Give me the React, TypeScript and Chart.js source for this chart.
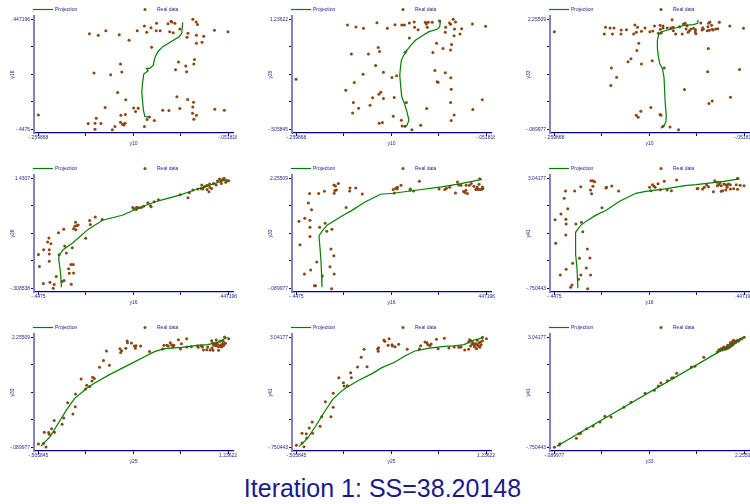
import React, { useEffect, useRef } from "react";
import { Chart, registerables } from "chart.js";

Chart.register(...registerables);

type Pt = [number, number];

// ---------- tick labels (end labels of each axis) ----------
const ticksY10 = ["-.259868", "-.051818"];
const ticksY16 = ["-.4475", ".447196"];
const ticksY25 = ["-.505845", "1.23622"];
const ticksY26 = ["-.308538", "1.4307"];
const ticksY33 = ["-.089977", "2.25509"];
const ticksY41 = ["-.750443", "3.04177"];

const titleText = "Iteration 1: SS=38.20148";
const legendLine = "Projection";
const legendDot = "Real data";

// ---------- panel A: y10 vs y16 ----------
const realA: Pt[] = [[-0.0905,0.4474],[-0.0869,0.4256],[-0.0854,0.4039],[-0.1145,0.4311],[-0.1134,0.4256],[-0.1177,0.4120],[-0.1102,0.4147],[-0.1303,0.4147],[-0.1436,0.3930],[-0.1364,0.3794],[-0.1515,0.3549],[-0.1411,0.3413],[-0.1307,0.3549],[-0.1264,0.3549],[-0.1159,0.3467],[-0.1120,0.3386],[-0.1048,0.3685],[-0.0958,0.3331],[-0.0865,0.3168],[-0.0786,0.3087],[-0.0969,0.3005],[-0.0668,0.3576],[-0.0520,0.3467],[-0.2039,0.3304],[-0.1942,0.3168],[-0.1859,0.3549],[-0.1712,0.3223],[-0.1605,0.2760],[-0.0804,0.2597],[-0.0865,0.2515],[-0.1357,0.2189],[-0.1062,0.0992],[-0.0887,0.1210],[-0.0894,0.0829],[-0.0983,0.0666],[-0.1095,0.0367],[-0.0973,0.0203],[-0.1698,0.0829],[-0.1684,0.0176],[-0.1989,0.0095],[-0.1806,-0.0041],[-0.1730,-0.1483],[-0.1640,-0.2081],[-0.1080,-0.1837],[-0.0962,-0.2054],[-0.0897,-0.2272],[-0.1867,-0.2707],[-0.1554,-0.2734],[-0.1504,-0.2761],[-0.1533,-0.3033],[-0.1235,-0.2925],[-0.1167,-0.2952],[-0.1048,-0.2789],[-0.0905,-0.2653],[-0.0664,-0.2843],[-0.0560,-0.2925],[-0.1644,-0.3278],[-0.1694,-0.3333],[-0.0908,-0.3169],[-0.0865,-0.3333],[-0.0894,-0.3659],[-0.1964,-0.3577],[-0.2599,-0.3305],[-0.1382,-0.3469],[-0.1407,-0.3686],[-0.1328,-0.3768],[-0.2053,-0.4013],[-0.1978,-0.3985],[-0.1913,-0.4013],[-0.1698,-0.3904],[-0.1676,-0.4067],[-0.1648,-0.3985],[-0.1662,-0.4121],[-0.1436,-0.4257],[-0.1759,-0.4257],[-0.1788,-0.4502],[-0.1978,-0.4475]];
const projA: Pt[] = [[-0.1016,0.4229],[-0.1027,0.3331],[-0.1055,0.3059],[-0.1145,0.2651],[-0.1235,0.2243],[-0.1289,0.1835],[-0.1325,0.1291],[-0.1339,0.0747],[-0.1378,0.0475],[-0.1414,0.0475],[-0.1396,0.0285],[-0.1443,0.0013],[-0.1457,-0.0749],[-0.1465,-0.1429],[-0.1457,-0.2109],[-0.1447,-0.2925],[-0.1432,-0.3414],[-0.1414,-0.3469],[-0.1368,-0.3469]];

// ---------- panel B: y10 vs y25 ----------
const realB: Pt[] = [[-0.1030,1.2098],[-0.1109,1.1886],[-0.1152,1.1886],[-0.1185,1.1886],[-0.1174,1.1621],[-0.1163,1.1092],[-0.1307,1.1939],[-0.1360,1.1780],[-0.1414,1.1462],[-0.1443,1.1462],[-0.1518,1.1515],[-0.1716,1.1833],[-0.1601,1.0933],[-0.1303,1.1092],[-0.1264,1.0721],[-0.0962,1.1092],[-0.0919,1.1780],[-0.0908,1.1568],[-0.0879,1.2363],[-0.0854,1.1939],[-0.0865,1.0827],[-0.0786,1.0880],[-0.0668,1.1621],[-0.0524,1.1251],[-0.2039,1.1462],[-0.1946,1.1145],[-0.1863,1.0933],[-0.0966,1.0298],[-0.0869,0.9768],[-0.0804,1.0033],[-0.1360,0.9397],[-0.2603,0.2885],[-0.1996,0.6856],[-0.1809,0.6856],[-0.1701,0.7915],[-0.1687,0.7279],[-0.1730,0.5055],[-0.1644,0.3996],[-0.1867,0.3679],[-0.1964,0.2355],[-0.1551,0.3149],[-0.1500,0.3414],[-0.2057,0.1137],[-0.1673,0.0819],[-0.1694,0.0502],[-0.1644,-0.0187],[-0.1763,-0.0081],[-0.1791,-0.1246],[-0.1974,-0.0822],[-0.1917,-0.1722],[-0.1982,-0.2463],[-0.1526,-0.0028],[-0.1536,-0.2993],[-0.1691,-0.4105],[-0.1655,-0.3999],[-0.1447,-0.3628],[-0.1393,-0.0822],[-0.1235,-0.4423],[-0.1332,-0.5111],[-0.1439,-0.4528],[-0.1407,-0.4581],[-0.1062,0.8550],[-0.0991,0.7756],[-0.0897,0.8391],[-0.1102,0.7121],[-0.0908,0.7491],[-0.1080,0.4261],[-0.0966,0.3891],[-0.0905,0.3096],[-0.1055,0.2461],[-0.1045,0.2408],[-0.0901,0.1296],[-0.0908,-0.0822],[-0.0560,-0.0398],[-0.0664,-0.1934],[-0.0869,-0.2781],[-0.0901,-0.3681],[-0.1170,-0.1775]];
const projB: Pt[] = [[-0.1019,1.2257],[-0.1027,1.1198],[-0.1055,1.0774],[-0.1145,1.0403],[-0.1235,0.9609],[-0.1289,0.9080],[-0.1342,0.8285],[-0.1386,0.7491],[-0.1414,0.7121],[-0.1393,0.7173],[-0.1421,0.6697],[-0.1447,0.5903],[-0.1457,0.4844],[-0.1465,0.3520],[-0.1454,0.1667],[-0.1443,0.0078],[-0.1414,-0.0981],[-0.1386,-0.2305],[-0.1364,-0.3628],[-0.1386,-0.4423],[-0.1421,-0.4687]];

// ---------- panel C: y10 vs y33 ----------
const realC: Pt[] = [[-0.2599,1.9914],[-0.2038,2.0840],[-0.1988,2.0698],[-0.1945,2.0698],[-0.2052,1.9415],[-0.1962,1.9415],[-0.1866,2.0270],[-0.1809,2.0341],[-0.1869,1.9415],[-0.1716,2.1339],[-0.1730,1.9415],[-0.1687,2.0840],[-0.1701,1.9771],[-0.1644,1.9985],[-0.1605,2.0698],[-0.1551,1.9914],[-0.1519,2.0056],[-0.1501,2.1126],[-0.1440,2.1268],[-0.1437,2.0413],[-0.1408,2.0698],[-0.1362,2.0698],[-0.1408,2.1126],[-0.1458,1.9557],[-0.1426,1.9629],[-0.1308,2.2480],[-0.1322,2.0698],[-0.1297,2.0840],[-0.1269,1.9415],[-0.1294,2.0128],[-0.1226,2.0983],[-0.1183,2.1553],[-0.1165,2.1696],[-0.1154,2.0484],[-0.1133,1.9771],[-0.1119,2.0128],[-0.1101,2.0484],[-0.1072,2.0627],[-0.1047,1.9486],[-0.1051,2.0341],[-0.0993,2.1767],[-0.0972,2.0769],[-0.0979,2.0270],[-0.0922,2.0128],[-0.0915,2.0983],[-0.0908,2.1696],[-0.0893,2.1981],[-0.0875,2.1268],[-0.0868,2.0413],[-0.0829,2.0484],[-0.0807,2.0555],[-0.0790,2.1910],[-0.0675,2.1126],[-0.0525,2.0627],[-0.1197,1.9415],[-0.1144,2.1197],[-0.1054,1.9842],[-0.0965,2.0484],[-0.0900,2.0199],[-0.0857,2.0270],[-0.1673,1.7419],[-0.1694,1.5922],[-0.1759,1.4140],[-0.1791,1.3499],[-0.1644,1.3000],[-0.1526,1.3712],[-0.1394,1.2144],[-0.1973,1.2144],[-0.1916,1.0220],[-0.1980,0.8438],[-0.0911,1.6350],[-0.0918,1.1360],[-0.0568,1.1859],[-0.1172,0.7582],[-0.0668,0.5943],[-0.0868,0.5159],[-0.0904,0.4589],[-0.1541,0.3733],[-0.1651,0.2949],[-0.1701,0.2094],[-0.1680,0.1666],[-0.1440,0.2236],[-0.1430,0.2094],[-0.1408,-0.0258],[-0.1330,-0.0401],[-0.1237,-0.0971]];
const projC: Pt[] = [[-0.1022,2.2409],[-0.1029,2.1696],[-0.1072,2.1411],[-0.1179,2.1268],[-0.1269,2.0698],[-0.1358,2.0270],[-0.1430,1.9842],[-0.1455,1.9272],[-0.1469,1.8132],[-0.1469,1.6350],[-0.1458,1.4568],[-0.1444,1.3142],[-0.1415,1.2073],[-0.1397,1.0291],[-0.1390,0.7440],[-0.1383,0.4589],[-0.1372,0.2094],[-0.1376,0.0668],[-0.1401,-0.0258],[-0.1433,-0.0686]];

// ---------- panel D: y16 vs y26 ----------
const realD: Pt[] = [[0.4283,1.4299],[0.4221,1.4140],[0.4407,1.3928],[0.4128,1.3928],[0.4066,1.4193],[0.3973,1.3875],[0.4500,1.3928],[0.4159,1.3504],[0.4360,1.3663],[0.3787,1.3504],[0.3911,1.3239],[0.3601,1.3398],[0.3508,1.3186],[0.3446,1.3133],[0.3353,1.2974],[0.3229,1.3239],[0.3275,1.2603],[0.3616,1.2868],[0.3694,1.2709],[0.3477,1.2550],[0.3570,1.2179],[0.3043,1.2603],[0.3198,1.2709],[0.2810,1.2444],[0.2640,1.2020],[0.2578,1.1225],[0.2206,1.1702],[0.1183,1.0907],[0.0981,1.0589],[0.0687,1.0430],[0.0811,0.9953],[0.0485,0.9900],[0.0377,0.9688],[0.0160,0.9741],[0.0036,0.9476],[0.0144,0.9370],[-0.0026,0.9688],[0.0842,0.9794],[0.0253,0.9635],[-0.1793,0.8204],[-0.1468,0.7780],[-0.2057,0.7621],[-0.2026,0.6985],[-0.2723,0.7356],[-0.2754,0.6720],[-0.2661,0.6826],[-0.2599,0.6932],[-0.2816,0.6349],[-0.2708,0.6190],[-0.3281,0.6243],[-0.3529,0.5713],[-0.2243,0.4812],[-0.2878,0.3328],[-0.3235,0.3593],[-0.3979,0.4865],[-0.4041,0.4229],[-0.3886,0.3964],[-0.4227,0.3010],[-0.3963,0.3010],[-0.3963,0.2321],[-0.4475,0.2268],[-0.3498,0.2215],[-0.3157,0.2480],[-0.3963,0.1208],[-0.4428,0.0360],[-0.2940,0.0678],[-0.2832,0.0678],[-0.3049,-0.0011],[-0.2816,-0.0647],[-0.3018,-0.0700],[-0.3638,-0.1230],[-0.3266,-0.1866],[-0.3359,-0.2025],[-0.3932,-0.2131],[-0.4242,-0.2343],[-0.3731,-0.2502],[-0.2925,-0.2449],[-0.3777,-0.3085]];
const projD: Pt[] = [[0.4438,1.4140],[0.3973,1.3610],[0.3353,1.2974],[0.2655,1.2179],[0.2190,1.1649],[0.1183,1.0748],[0.0563,1.0006],[0.0098,0.9370],[-0.0522,0.8469],[-0.1452,0.7674],[-0.2150,0.6190],[-0.2847,0.4123],[-0.3312,0.3010],[-0.3498,0.2109],[-0.3514,0.1473],[-0.3467,0.0254],[-0.3421,-0.1071],[-0.3390,-0.2926]];

// ---------- panel E: y16 vs y33 ----------
const realE: Pt[] = [[0.4170,2.2481],[0.3120,2.1772],[0.3774,2.1418],[0.3531,2.1064],[0.3181,2.1134],[0.3287,2.1064],[0.3683,2.1064],[0.4048,2.0709],[0.4292,2.0709],[0.4140,2.1276],[0.3896,2.0851],[0.4003,2.0284],[0.4277,2.0213],[0.4200,2.0142],[0.4109,2.0142],[0.4079,2.0284],[0.4322,2.0355],[0.3987,2.0142],[0.3516,2.0001],[0.3470,1.9505],[0.3409,1.9717],[0.3592,1.9292],[0.3028,1.9434],[0.2755,2.0638],[0.2602,2.0426],[0.2526,2.0142],[0.2252,2.0284],[0.1324,2.1914],[0.0898,2.0284],[0.0882,2.0072],[0.1050,1.9859],[0.0289,2.0638],[0.0213,2.0426],[0.0274,2.0284],[0.0091,2.0142],[0.0456,2.1064],[0.0137,1.9434],[-0.2709,2.1134],[-0.2633,2.0922],[-0.2496,2.1418],[-0.3151,1.9788],[-0.2664,1.9930],[-0.2588,2.0072],[-0.2694,1.9363],[-0.3425,1.9292],[-0.3851,1.9292],[-0.1948,2.0497],[-0.1675,2.0497],[-0.1964,1.9859],[-0.1370,1.9221],[-0.3912,1.7308],[-0.3760,1.5821],[-0.2131,1.6317],[-0.4353,1.3412],[-0.4079,1.4049],[-0.3836,1.3624],[-0.3379,1.2136],[-0.3120,1.2987],[-0.3836,1.2136],[-0.2801,1.1711],[-0.3044,1.1286],[-0.3836,1.0153],[-0.4308,0.8381],[-0.2846,0.7460],[-0.2709,0.6043],[-0.3516,0.4697],[-0.3805,0.2997],[-0.4095,0.2147],[-0.2892,0.3705],[-0.2694,0.2147],[-0.3257,0.1721],[-0.3577,-0.0333],[-0.3623,-0.0333],[-0.2816,-0.0971]];
const projE: Pt[] = [[0.4277,2.2339],[0.3287,2.1418],[0.2374,2.0709],[0.1156,2.0001],[0.0091,1.9363],[-0.0518,1.9151],[-0.1279,1.7379],[-0.1888,1.5608],[-0.2192,1.4900],[-0.2649,1.3624],[-0.3029,1.2562],[-0.3257,1.1357],[-0.3410,1.0294],[-0.3364,0.7815],[-0.3318,0.4981],[-0.3288,0.2147],[-0.3273,-0.0687]];

// ---------- panel F: y16 vs y41 ----------
const realF: Pt[] = [[0.4163,3.0420],[0.3087,2.9615],[0.3333,2.8811],[0.3210,2.9041],[0.3271,2.8236],[0.3394,2.7891],[0.3517,2.8466],[0.3610,2.8236],[0.3671,2.7891],[0.3733,2.8466],[0.3825,2.8236],[0.4101,2.8236],[0.4286,2.8006],[0.4470,2.7891],[0.4163,2.6627],[0.3979,2.6857],[0.3610,2.6397],[0.3456,2.6168],[0.3026,2.5823],[0.3394,2.5938],[0.2703,2.8121],[0.2518,2.6742],[0.2288,2.6972],[0.2795,2.7547],[0.2595,2.7317],[0.3210,2.7891],[0.3671,2.7317],[0.3825,2.6742],[0.2257,2.6857],[0.1289,2.9845],[0.0705,2.9385],[0.0413,2.8581],[0.0213,2.7776],[0.0151,2.8236],[0.0274,2.7317],[0.0013,2.7317],[0.0075,2.6168],[0.0843,2.6397],[0.1043,2.6168],[0.0520,2.6512],[-0.2754,2.9615],[-0.2661,2.9615],[-0.2584,2.9270],[-0.2661,2.7662],[-0.2769,2.6397],[-0.2723,2.5133],[-0.3230,2.7547],[-0.3522,2.6053],[-0.3952,2.6053],[-0.4014,2.3524],[-0.3845,1.9962],[-0.4168,1.8123],[-0.4444,1.6170],[-0.3937,1.6284],[-0.3922,1.4676],[-0.3461,1.4676],[-0.3199,1.5250],[-0.3138,1.2032],[-0.3937,1.0883],[-0.4414,0.8010],[-0.2047,2.7087],[-0.2016,2.7317],[-0.1770,2.7776],[-0.1447,2.6053],[-0.2231,2.0306],[-0.2923,0.6057],[-0.3292,0.2839],[-0.2800,0.2954],[-0.3614,0.1115],[-0.2969,-0.0494],[-0.3922,-0.0954],[-0.4198,-0.2907],[-0.3230,-0.2907],[-0.2769,-0.2907],[-0.3338,-0.4401],[-0.3645,-0.6355],[-0.3706,-0.7159],[-0.2907,-0.7619]];
const projF: Pt[] = [[0.4255,3.0190],[0.3517,2.9385],[0.2211,2.8236],[0.1673,2.7891],[0.0751,2.6742],[-0.0171,2.5938],[-0.0632,2.5248],[-0.1401,2.2490],[-0.2016,1.9502],[-0.2554,1.7549],[-0.2938,1.5825],[-0.3245,1.4101],[-0.3476,1.1803],[-0.3491,0.8930],[-0.3461,0.4333],[-0.3414,-0.0264],[-0.3368,-0.7504]];

// ---------- panel G: y25 vs y33 ----------
const realG: Pt[] = [[-0.5058,-0.0185],[-0.4605,-0.0113],[-0.4364,-0.0829],[-0.4515,0.2318],[-0.4122,0.2246],[-0.4062,0.1889],[-0.3850,0.3033],[-0.3579,0.2318],[-0.3609,0.4820],[-0.2884,0.4034],[-0.2733,0.5321],[-0.2371,0.8610],[-0.1888,0.6179],[-0.1677,0.7752],[-0.1647,1.0469],[-0.1133,1.3686],[-0.0741,1.1541],[-0.0620,1.2328],[-0.0348,1.2042],[-0.0077,1.4044],[0.0074,1.3758],[-0.0137,1.3257],[0.0557,1.6189],[0.0920,1.7619],[0.1191,1.9621],[0.1463,1.6618],[0.2429,2.0121],[0.2490,1.9335],[0.2580,1.9692],[0.2973,2.0193],[0.3093,2.1766],[0.3123,2.1408],[0.3486,2.1337],[0.3757,2.0693],[0.3848,2.0193],[0.3908,2.0765],[0.4331,2.0693],[0.5146,1.9549],[0.6354,2.0050],[0.6475,2.0836],[0.6867,2.0693],[0.6746,2.0836],[0.7048,2.1408],[0.7169,2.0979],[0.7290,2.0550],[0.7380,2.0836],[0.7803,2.2052],[0.7984,2.0050],[0.8075,2.1194],[0.8558,2.2266],[0.8588,2.0479],[0.8980,2.0550],[0.9554,2.0765],[0.9614,2.0407],[0.9886,2.0765],[1.0007,2.0479],[1.0097,1.9835],[1.0399,1.9907],[1.0490,2.0479],[1.0701,1.9835],[1.0943,2.1337],[1.0882,2.0264],[1.0973,1.9764],[1.1033,2.0836],[1.1154,2.1122],[1.1245,2.0765],[1.1305,2.1337],[1.1396,2.1051],[1.1456,2.0550],[1.1607,2.0693],[1.1697,2.0908],[1.1758,2.0479],[1.1848,2.1194],[1.1939,2.0765],[1.1999,2.1122],[1.2120,2.1265],[1.2030,2.2624],[1.2422,2.2266],[1.1486,1.9764],[1.0852,2.1837],[1.1275,2.1980],[1.1607,2.1694],[1.1909,2.1694]];
const projG: Pt[] = [[-0.4816,-0.0614],[-0.4001,0.1317],[-0.3247,0.4177],[-0.2492,0.7037],[-0.1737,0.9539],[-0.1043,1.0826],[-0.0620,1.1684],[0.0074,1.2757],[0.1433,1.4544],[0.2640,1.5974],[0.3546,1.7047],[0.4452,1.8119],[0.5659,1.9549],[0.6565,2.0121],[0.8075,2.0407],[0.9584,2.0836],[1.0490,2.0979],[1.1396,2.1480],[1.2301,2.2551]];

// ---------- panel H: y25 vs y41 ----------
const realH: Pt[] = [[-0.5058,-0.6814],[-0.4545,-0.6010],[-0.4364,-0.7274],[-0.4545,-0.2677],[-0.4152,-0.2792],[-0.4122,-0.4286],[-0.3881,-0.0839],[-0.3579,-0.2677],[-0.3609,0.1230],[-0.2884,-0.0264],[-0.2733,0.3069],[-0.2401,0.8240],[-0.1888,0.3069],[-0.1677,0.6286],[-0.1677,1.1113],[-0.1163,1.6514],[-0.0741,1.4790],[-0.0680,1.3641],[-0.0379,1.3756],[-0.0016,1.6514],[-0.0077,1.8238],[0.0557,2.0192],[0.0889,2.3524],[0.1161,2.6282],[0.1433,2.0307],[0.2399,2.6397],[0.2459,2.5593],[0.2490,2.6857],[0.2973,2.9500],[0.3063,2.9041],[0.3456,2.9960],[0.3365,2.7662],[0.3727,2.7891],[0.3999,2.7202],[0.3757,2.7432],[0.4331,2.8006],[0.5116,2.6282],[0.6233,2.6397],[0.6354,2.7547],[0.6746,2.8811],[0.6927,2.8581],[0.7018,2.7891],[0.7320,2.8121],[0.7199,2.7547],[0.7803,2.9730],[0.7954,2.6512],[0.8528,3.0075],[0.8950,2.6742],[0.9433,2.7087],[0.9856,2.6972],[1.0067,2.7087],[1.0399,2.6053],[1.0762,2.6282],[1.0852,2.9615],[1.1003,2.9156],[1.1184,2.8581],[1.1063,2.8121],[1.0943,2.7432],[1.1245,2.7891],[1.1426,2.8236],[1.1305,2.7087],[1.1547,2.7662],[1.1667,2.7432],[1.1788,2.6972],[1.1909,2.7891],[1.1848,2.8811],[1.2030,2.9270],[1.2030,3.0420],[1.2392,2.9960],[1.1486,2.6512],[1.1697,2.8466],[1.1547,2.9385],[1.0762,2.8811]];
const projH: Pt[] = [[-0.4816,-0.7274],[-0.4001,-0.4286],[-0.3247,0.0081],[-0.2492,0.4678],[-0.1737,0.8930],[-0.1073,1.1343],[-0.0529,1.2952],[0.0678,1.5595],[0.1886,1.7893],[0.2791,1.9962],[0.3999,2.1916],[0.4905,2.3984],[0.5810,2.5708],[0.7018,2.6627],[0.8528,2.7317],[0.9433,2.7432],[1.0339,2.7891],[1.1245,2.9500],[1.2150,3.0305]];

// ---------- panel I: y33 vs y41 ----------
const realI: Pt[] = [[-0.0900,-0.7504],[-0.0292,-0.6700],[-0.0211,-0.6240],[0.1814,-0.4401],[0.2138,-0.2792],[0.2340,-0.2677],[0.3069,-0.1068],[0.3879,-0.0149],[0.4730,0.1230],[0.5337,0.3184],[0.6107,0.2954],[0.7686,0.6286],[0.8577,0.8010],[1.0319,1.1113],[1.1453,1.2147],[1.1939,1.3641],[1.2263,1.4676],[1.3073,1.5480],[1.3599,1.6399],[1.3802,1.6514],[1.4207,1.8008],[1.6029,2.0192],[1.6475,2.0422],[1.7568,2.3524],[1.9229,2.5363],[1.9431,2.6168],[1.9715,2.6512],[1.9958,2.6742],[2.0241,2.6857],[2.0444,2.7087],[2.0646,2.7432],[2.0849,2.7891],[2.1092,2.8236],[2.1335,2.8811],[2.1578,2.9156],[2.1740,2.9385],[2.2064,2.9730],[2.2551,3.0418],[1.9553,2.5938],[1.9877,2.6053],[2.0201,2.6282],[2.0363,2.6512],[2.0606,2.6742],[2.0768,2.7087],[2.0971,2.7432],[2.1173,2.7891],[2.1294,2.8351],[2.1497,2.8581],[2.1861,2.9041],[2.2267,2.9960],[2.0039,2.7087],[2.0525,2.7662],[2.0849,2.8581],[2.1051,2.8811],[2.1254,2.9385]];
const projI: Pt[] = [[-0.0616,-0.7159],[2.2671,3.0649]];

// ---------- styling ----------
const FONT = "'Liberation Sans', Arial, Helvetica, sans-serif";
const NAVY = "#1e1e8e";
const GREEN = "#008000";
const BROWN = "#8b4513";
const YAXIS = "#8282c8";
const XAXIS = "#00008b";

const COL_LEFT = [0, 258, 516];
const ROW_TOP = [0, 159, 318];
const Y_AXIS_W = 34;
const AREA_W = 203;
const AREA_H = 117;
const PAD_TOP = 16;
const X_AXIS_H = 20;
const CANVAS_W = Y_AXIS_W + AREA_W;
const CANVAS_H = PAD_TOP + AREA_H + X_AXIS_H;

interface PanelDef {
  col: number;
  row: number;
  xTicks: string[];
  yTicks: string[];
  xTitle: string;
  yTitle: string;
  real: Pt[];
  proj: Pt[];
}

const panels: PanelDef[] = [
  { col: 0, row: 0, xTicks: ticksY10, yTicks: ticksY16, xTitle: "y10", yTitle: "y16", real: realA, proj: projA },
  { col: 1, row: 0, xTicks: ticksY10, yTicks: ticksY25, xTitle: "y10", yTitle: "y25", real: realB, proj: projB },
  { col: 2, row: 0, xTicks: ticksY10, yTicks: ticksY33, xTitle: "y10", yTitle: "y33", real: realC, proj: projC },
  { col: 0, row: 1, xTicks: ticksY16, yTicks: ticksY26, xTitle: "y16", yTitle: "y26", real: realD, proj: projD },
  { col: 1, row: 1, xTicks: ticksY16, yTicks: ticksY33, xTitle: "y16", yTitle: "y33", real: realE, proj: projE },
  { col: 2, row: 1, xTicks: ticksY16, yTicks: ticksY41, xTitle: "y16", yTitle: "y41", real: realF, proj: projF },
  { col: 0, row: 2, xTicks: ticksY25, yTicks: ticksY33, xTitle: "y25", yTitle: "y33", real: realG, proj: projG },
  { col: 1, row: 2, xTicks: ticksY25, yTicks: ticksY41, xTitle: "y25", yTitle: "y41", real: realH, proj: projH },
  { col: 2, row: 2, xTicks: ticksY33, yTicks: ticksY41, xTitle: "y33", yTitle: "y41", real: realI, proj: projI },
];

const legendPlugin = {
  id: "panelLegend",
  afterDraw(chart: any) {
    const { ctx, chartArea } = chart;
    const left = chartArea.left;
    const y = chartArea.top - 6.5;
    ctx.save();
    ctx.strokeStyle = GREEN;
    ctx.lineWidth = 1.2;
    ctx.beginPath();
    ctx.moveTo(left - 1, y);
    ctx.lineTo(left + 19, y);
    ctx.stroke();
    ctx.font = `5px ${FONT}`;
    ctx.textBaseline = "middle";
    ctx.textAlign = "left";
    ctx.fillStyle = NAVY;
    ctx.fillText(legendLine, left + 21, y);
    ctx.fillStyle = BROWN;
    ctx.beginPath();
    ctx.arc(left + 111, y, 1.5, 0, Math.PI * 2);
    ctx.fill();
    ctx.fillStyle = NAVY;
    ctx.fillText(legendDot, left + 123, y);
    ctx.restore();
  },
};

function Panel({ def }: { def: PanelDef }) {
  const ref = useRef<HTMLCanvasElement>(null);
  useEffect(() => {
    if (!ref.current) return;
    const xv = def.xTicks.map((s) => parseFloat(s));
    const yv = def.yTicks.map((s) => parseFloat(s));
    const xr = xv[1] - xv[0];
    const yr = yv[1] - yv[0];
    const tickFont = { size: 5, family: FONT };
    const chart = new Chart(ref.current, {
      type: "scatter",
      data: {
        datasets: [
          {
            label: legendLine,
            data: def.proj.map(([x, y]) => ({ x, y })),
            showLine: true,
            borderColor: GREEN,
            borderWidth: 1.2,
            pointRadius: 0,
            fill: false,
            tension: 0,
          } as any,
          {
            label: legendDot,
            data: def.real.map(([x, y]) => ({ x, y })),
            showLine: false,
            pointRadius: 1.5,
            pointBackgroundColor: BROWN,
            backgroundColor: BROWN,
            borderWidth: 0,
            pointBorderWidth: 0,
          } as any,
        ],
      },
      options: {
        animation: false,
        responsive: false,
        devicePixelRatio: 1,
        layout: { padding: { top: PAD_TOP, left: 0, right: 0, bottom: 0 } },
        plugins: { legend: { display: false }, tooltip: { enabled: false } },
        scales: {
          x: {
            type: "linear",
            min: xv[0] - (4.5 * xr) / 193.5,
            max: xv[1] + (5 * xr) / 193.5,
            afterBuildTicks: (s: any) => {
              s.ticks = [0, 1, 2, 3, 4].map((i) => ({ value: xv[0] + (i * xr) / 4 }));
            },
            afterFit: (s: any) => {
              s.height = X_AXIS_H;
              s.paddingLeft = 0;
              s.paddingRight = 0;
              s.paddingTop = 0;
              s.paddingBottom = 0;
            },
            ticks: {
              callback: (_v: any, i: number) => (i === 0 ? def.xTicks[0] : i === 4 ? def.xTicks[1] : ""),
              font: tickFont,
              color: NAVY,
              padding: -1.3,
              maxRotation: 0,
              minRotation: 0,
              autoSkip: false,
            },
            grid: { display: true, drawOnChartArea: false, drawTicks: true, tickLength: 3, tickColor: XAXIS, tickWidth: 1 },
            border: { display: true, color: XAXIS, width: 1.3 },
            title: { display: true, text: def.xTitle, font: tickFont, color: NAVY, padding: { top: 0, bottom: 6.7 } },
          },
          y: {
            type: "linear",
            min: yv[0] - (3.7 * yr) / 110,
            max: yv[1] + (3.3 * yr) / 110,
            afterBuildTicks: (s: any) => {
              s.ticks = [0, 1, 2, 3, 4].map((i) => ({ value: yv[0] + (i * yr) / 4 }));
            },
            afterFit: (s: any) => {
              s.width = Y_AXIS_W;
              s.paddingLeft = 0;
              s.paddingRight = 0;
              s.paddingTop = 0;
              s.paddingBottom = 0;
            },
            ticks: {
              callback: (_v: any, i: number) => (i === 0 ? def.yTicks[0] : i === 4 ? def.yTicks[1] : ""),
              font: tickFont,
              color: NAVY,
              padding: 1,
              autoSkip: false,
            },
            grid: { display: true, drawOnChartArea: false, drawTicks: true, tickLength: 3, tickColor: XAXIS, tickWidth: 1 },
            border: { display: true, color: YAXIS, width: 2 },
            title: { display: true, text: def.yTitle, font: tickFont, color: NAVY, padding: { top: 10, bottom: 0 } },
          },
        },
      } as any,
      plugins: [legendPlugin as any],
    });
    return () => chart.destroy();
  }, [def]);
  return (
    <canvas
      ref={ref}
      width={CANVAS_W}
      height={CANVAS_H}
      style={{
        position: "absolute",
        left: COL_LEFT[def.col],
        top: ROW_TOP[def.row],
        width: CANVAS_W,
        height: CANVAS_H,
      }}
    />
  );
}

export default function App() {
  return (
    <div
      style={{
        position: "absolute",
        left: 0,
        top: 0,
        width: 750,
        height: 504,
        overflow: "hidden",
        background: "#ffffff",
      }}
    >
      {panels.map((p, i) => (
        <Panel key={i} def={p} />
      ))}
      <div
        style={{
          position: "absolute",
          left: 0,
          top: 473,
          width: 765,
          textAlign: "center",
          fontFamily: FONT,
          fontSize: 25,
          lineHeight: "30px",
          color: "#1a1a8c",
          whiteSpace: "nowrap",
        }}
      >
        {titleText}
      </div>
    </div>
  );
}
